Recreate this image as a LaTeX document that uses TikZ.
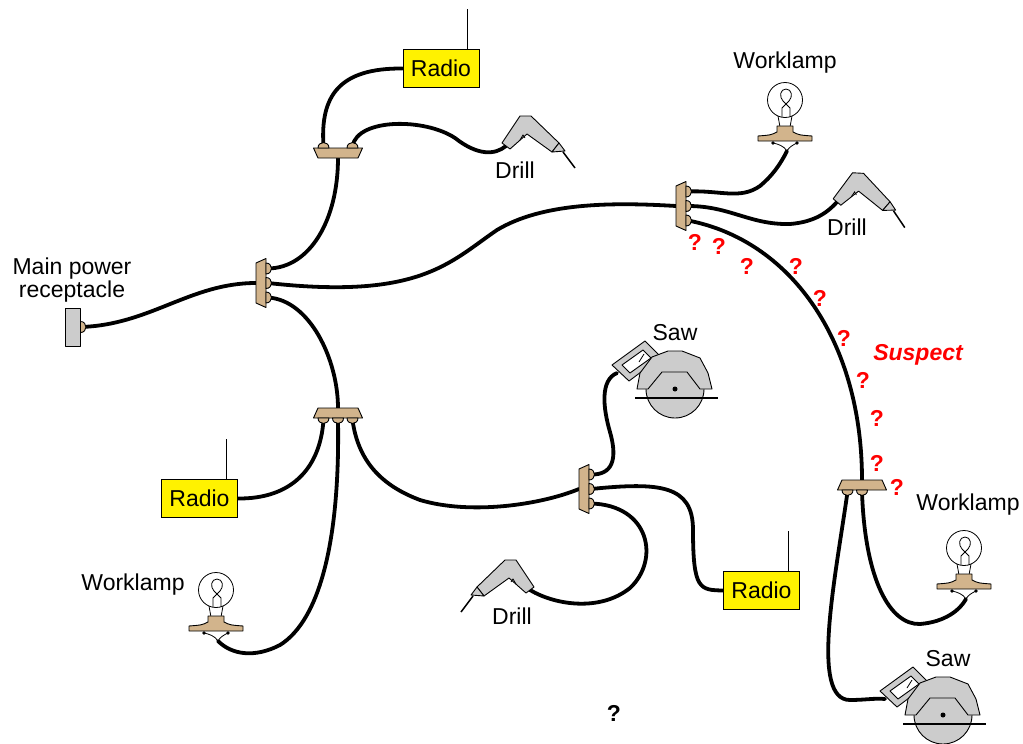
\documentclass[tikz,border=0pt]{standalone}
\usepackage{fontspec}
\setmainfont{Liberation Sans}

\definecolor{plugtan}{RGB}{210,180,140}
\definecolor{toolgray}{RGB}{204,204,204}
\newcommand{\labelfont}{\fontsize{23}{23}\selectfont}

\pgfdeclarelayer{cords}
\pgfsetlayers{cords,main}

\tikzset{
  plug/.pic={\filldraw[tanpart] (0,-5.5) .. controls (7.3,-5.5) and (7.3,5.5) .. (0,5.5) -- cycle;},
  strip/.pic={
    \filldraw[tanpart] (0,-20) -- (10,-24.5) -- (10,24.5) -- (0,20) -- cycle;
    \foreach \k in {#1}
      \filldraw[tanpart, shift={(10,{(\k-2)*14.5})}] (0,-5.5) .. controls (7.3,-5.5) and (7.3,5.5) .. (0,5.5) -- cycle;
    \coordinate (-in) at (0,0);
    \coordinate (-o1) at (12,-14.5);
    \coordinate (-o2) at (12,0);
    \coordinate (-o3) at (12,14.5);
  },
  drill/.pic={
    \filldraw[toolpart] (-4,-3) -- (14,-30) -- (25,-30) -- (53,-3) -- (46,6) -- (21,-12) -- (4,3) -- cycle;
    \filldraw[toolpart] (53,-3) -- (59,5) -- (46,6) -- cycle;
    \draw[line width=1.5pt] (57,6) -- (69,22);
    \draw[thinline] (14,-6) -- (17,-11) -- (19,-8);
    \coordinate (-cord) at (0,0);
  },
  saw/.pic={
    \filldraw[toolpart, even odd rule] (-63,-24) -- (-30,-48) -- (-14,-32) -- (-46,-8) -- cycle
      (-53,-24) -- (-32,-39) -- (-24,-31) -- (-45,-16) -- cycle;
    \draw[thinline] (-36,-27) -- (-31,-35);
    \filldraw[toolpart] (0,0) circle (29pt);
    \filldraw[toolpart] (-38,0) -- (-35,-16) -- (-23,-32) -- (-7,-38) -- (7,-38) -- (25,-31) -- (33,-16)
      -- (37,0) -- (25,0) -- (12,-17) -- (-13,-17) -- (-27,0) -- cycle;
    \draw[line width=2.5pt] (-40,9) -- (43,9);
    \fill (0,0) circle (2.5pt);
    \coordinate (-cord) at (-58,-16);
  },
  lamp/.pic={
    \draw[thinline, fill=white] (0,0) circle (17.5pt);
    \draw[thinline] (-7,16) -- (-5,27) (7,16) -- (5,27);
    \draw[thinline] (-3,17) -- (-3,8) -- (4,1) .. controls (8,-3) and (7,-11) .. (1,-11)
      .. controls (-5,-11) and (-6,-3) .. (-2,1) -- (5,8) -- (5,17);
    \filldraw[tanpart] (-8,26) -- (8,26) -- (8,32) .. controls (14,35) .. (27,36) -- (27,41)
      -- (-27,41) -- (-27,36) .. controls (-14,35) .. (-8,32) -- cycle;
    \fill (-12,43) circle (1.8pt) (12,43) circle (1.8pt);
    \draw[thinline] (-12,43) .. controls (-7,44) and (-1,46) .. (2,51);
    \draw[thinline] (12,43) .. controls (8,45) and (4,47) .. (2,51);
    \coordinate (-cord) at (2,51);
  }
}

\begin{document}
\begin{tikzpicture}[x=1pt, y=-1pt, font=\labelfont,
  cord/.style={line width=3.8pt, line cap=round},
  tanpart/.style={draw, fill=plugtan, line width=0.9pt, line join=round},
  toolpart/.style={draw, fill=toolgray, line width=0.9pt, line join=round},
  thinline/.style={line width=0.8pt},
  radio/.style={draw, fill=yellow, line width=0.9pt, minimum width=76pt, minimum height=38pt, inner sep=0pt},
  lbl/.style={inner sep=0pt, text height=16.5pt, text depth=0pt},
  qmark/.style={lbl, text=red, font=\labelfont\bfseries}]

  \useasboundingbox (0,0) rectangle (1023,744);

  % receptacle
  \node[toolpart, minimum width=15pt, minimum height=38pt, inner sep=0pt] (mains) at (72.5,327) {};
  \pic at (mains.east) {plug};
  \node[align=center, inner sep=0pt] (mainslabel) at (72,280) {Main power\\receptacle};

  % strips
  \pic[rotate=90] (s1) at (338,158) {strip={1,3}};
  \pic (s2) at (256,283) {strip={1,2,3}};
  \pic[rotate=-90] (s3) at (338,408) {strip={1,2,3}};
  \pic (s4) at (579,489) {strip={1,2,3}};
  \pic (s5) at (676,206) {strip={1,2,3}};
  \pic[rotate=-90] (s6) at (862,480) {strip={2,3}};

  % radios
  \node[radio] (r1) at (441,68.5) {Radio};
  \node[radio] (r2) at (199.5,498.5) {Radio};
  \node[radio] (r3) at (761.5,590.5) {Radio};
  \foreach \r in {r1,r2,r3}
    \draw[thinline] ([xshift=-12pt]\r.north east) -- ++(0,-40);

  % tools
  \pic (d1) at (506,146) {drill};
  \pic[rotate=-3] (d2) at (837,202) {drill};
  \pic[xscale=-1] (d3) at (530,590) {drill};
  \node[lbl] (d1label) at (515,170) {Drill};
  \node[lbl] (d2label) at (847,227) {Drill};
  \node[lbl] (d3label) at (512,616) {Drill};

  \pic (sw1) at (675,389) {saw};
  \pic (sw2) at (943,715) {saw};
  \node[lbl] (sw1label) at (675,332) {Saw};
  \node[lbl] (sw2label) at (948,658) {Saw};

  \pic (l1) at (216,590) {lamp};
  \pic (l2) at (785,100) {lamp};
  \pic (l3) at (964,548) {lamp};
  \node[lbl] (l1label) at (133,582) {Worklamp};
  \node[lbl] (l2label) at (785,60) {Worklamp};
  \node[lbl] (l3label) at (968,502) {Worklamp};

  % suspect cord marks
  \node[lbl, text=red, font=\labelfont\bfseries\itshape] (suspect) at (918,352) {Suspect};
  \foreach \qx/\qy [count=\i] in {695/242, 719/246, 747/266, 796/266, 820/298,
                                  844/338, 863/380, 877/418, 877/463, 897/487}
    \node[qmark] (q\i) at (\qx,\qy) {?};
  \node[lbl, font=\labelfont\bfseries] (qbottom) at (614,713) {?};

  \begin{pgfonlayer}{cords}
  \draw[cord] (mains.east) .. controls (150,325) and (190,283) .. (s2-in); % mains->s2
  \draw[cord] (s2-o1) .. controls (310,268) and (338,220) .. (s1-in); % s2->s1
  \draw[cord] (s1-o1) .. controls (320,95) and (340,68) .. (r1.west); % s1->radio
  \draw[cord] (s1-o3) .. controls (358,118) and (425,118) .. (455,138)
                      .. controls (478,156) and (495,155) .. (d1-cord); % s1->drill
  \draw[cord] (s2-o2) .. controls (420,300) and (450,262) .. (497,230)
                      .. controls (542,203) and (610,202) .. (s5-in); % s2->s5
  \draw[cord] (s2-o3) .. controls (310,300) and (338,360) .. (s3-in); % s2->s3
  \draw[cord] (s3-o3) .. controls (320,470) and (290,499) .. (r2.east); % s3->radio
  \draw[cord] (s3-o2) .. controls (340,540) and (320,620) .. (280,645)
                      .. controls (255,658) and (232,655) .. (l1-cord); % s3->lamp
  \draw[cord] (s3-o1) .. controls (358,460) and (380,485) .. (420,500)
                      .. controls (470,515) and (540,505) .. (s4-in); % s3->s4
  \draw[cord] (s4-o1) .. controls (612,475) and (618,460) .. (610,432)
                      .. controls (603,408) and (600,380) .. (sw1-cord); % s4->saw
  \draw[cord] (s4-o2) .. controls (660,482) and (693,485) .. (693,530)
                      .. controls (693,590) and (700,590) .. (r3.west); % s4->radio
  \draw[cord] (s4-o3) .. controls (650,505) and (660,560) .. (630,588)
                      .. controls (600,612) and (555,605) .. (d3-cord); % s4->drill
  \draw[cord] (s5-o1) .. controls (720,190) and (740,200) .. (760,186)
                      .. controls (772,176) and (780,165) .. (l2-cord); % s5->lamp
  \draw[cord] (s5-o2) .. controls (730,206) and (750,225) .. (790,224)
                      .. controls (815,222) and (828,212) .. (d2-cord); % s5->drill
  \draw[cord] (s5-o3) .. controls (790,240) and (862,340) .. (s6-in); % s5->s6
  \draw[cord] (s6-o2) .. controls (865,580) and (890,625) .. (920,624)
                      .. controls (945,622) and (960,610) .. (l3-cord); % s6->lamp
  \draw[cord] (s6-o3) .. controls (835,580) and (810,700) .. (850,700)
                      .. controls (865,700) and (875,698) .. (sw2-cord); % s6->saw
  \end{pgfonlayer}

\end{tikzpicture}
\end{document}
